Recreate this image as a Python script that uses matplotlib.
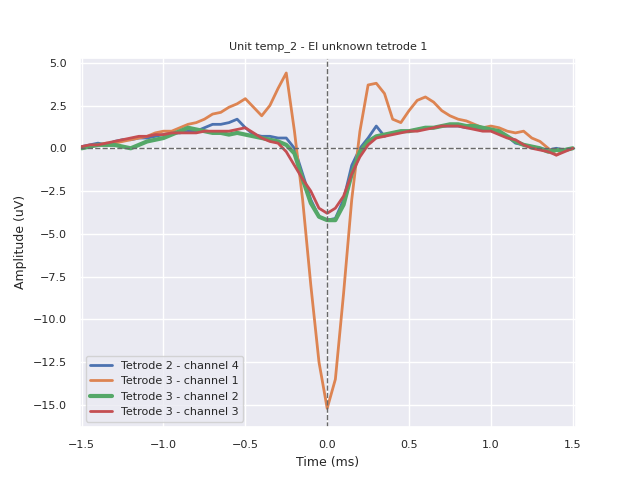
import numpy as np
import matplotlib; matplotlib.use('Agg')
import matplotlib.pyplot as plt
import seaborn as sns

sns.set_theme()

time_ms = np.round(np.arange(-1.5, 1.5001, 0.05), 2)

ch4 = [0.1, 0.2, 0.3, 0.2, 0.4, 0.5, 0.5, 0.6, 0.6, 0.7, 0.8, 0.9, 0.9, 1.0, 1.0, 1.2, 1.4, 1.4, 1.5, 1.7, 1.2,
       0.8, 0.7, 0.7, 0.6, 0.6, 0.0, -1.5, -3.0, -4.0, -4.2, -4.1, -3.0, -1.0, 0.0, 0.6, 1.3, 0.7, 0.9, 1.0,
       1.0, 1.1, 1.2, 1.2, 1.3, 1.3, 1.3, 1.2, 1.2, 1.1, 1.1, 0.9, 0.7, 0.3, 0.2, 0.1, 0.0, -0.1, 0.0, -0.1, 0.0]
ch1 = [0.0, 0.1, 0.2, 0.3, 0.3, 0.4, 0.5, 0.6, 0.7, 0.9, 1.0, 1.0, 1.2, 1.4, 1.5, 1.7, 2.0, 2.1, 2.4, 2.6, 2.9,
       2.4, 1.9, 2.5, 3.5, 4.4, 1.0, -3.0, -8.0, -12.5, -15.2, -13.5, -8.5, -3.0, 1.0, 3.7, 3.8, 3.2, 1.7, 1.5,
       2.2, 2.8, 3.0, 2.7, 2.2, 1.9, 1.7, 1.6, 1.4, 1.2, 1.3, 1.2, 1.0, 0.9, 1.0, 0.6, 0.4, 0.0, -0.4, -0.1, 0.0]
ch2 = [0.0, 0.1, 0.2, 0.2, 0.2, 0.1, 0.0, 0.2, 0.4, 0.5, 0.6, 0.8, 1.0, 1.2, 1.1, 1.0, 0.9, 0.9, 0.8, 0.9, 0.8,
       0.7, 0.6, 0.5, 0.4, 0.2, -0.3, -1.8, -3.2, -4.0, -4.2, -4.2, -3.3, -1.5, -0.2, 0.4, 0.7, 0.8, 0.9, 1.0,
       1.0, 1.1, 1.2, 1.2, 1.3, 1.4, 1.4, 1.3, 1.3, 1.2, 1.1, 1.0, 0.7, 0.4, 0.2, 0.1, 0.0, -0.2, -0.1, -0.1, 0.0]
ch3 = [0.1, 0.2, 0.2, 0.3, 0.4, 0.5, 0.6, 0.7, 0.7, 0.8, 0.8, 0.9, 0.9, 0.9, 0.9, 1.0, 1.0, 1.0, 1.0, 1.1, 1.2,
       0.9, 0.6, 0.4, 0.3, -0.2, -1.0, -1.8, -2.5, -3.5, -3.8, -3.5, -2.8, -1.5, -0.5, 0.2, 0.6, 0.7, 0.8, 0.9,
       1.0, 1.0, 1.1, 1.2, 1.3, 1.3, 1.3, 1.2, 1.1, 1.0, 1.0, 0.8, 0.6, 0.5, 0.2, 0.0, -0.1, -0.2, -0.4, -0.2, 0.0]

series = [('Tetrode 2 - channel 4', ch4, 2), ('Tetrode 3 - channel 1', ch1, 2),
          ('Tetrode 3 - channel 2', ch2, 3), ('Tetrode 3 - channel 3', ch3, 2)]

fig, ax = plt.subplots(figsize=(6.4, 4.8), dpi=100)
for label, vals, lw in series:
    ax.plot(time_ms, vals, lw=lw, label=label)
ax.axhline(0, color='dimgray', ls='--', lw=1)
ax.axvline(0, color='dimgray', ls='--', lw=1)
ax.set_xlim(-1.51, 1.52)
ax.set_ylim(-16.3, 5.3)
ax.set_xlabel('Time (ms)', fontsize=9)
ax.set_ylabel('Amplitude (uV)', fontsize=9)
ax.tick_params(labelsize=8)
ax.set_title('Unit temp_2 - El unknown tetrode 1', fontsize=8)
ax.legend(loc='lower left', fontsize=8)
plt.savefig('out.png')
